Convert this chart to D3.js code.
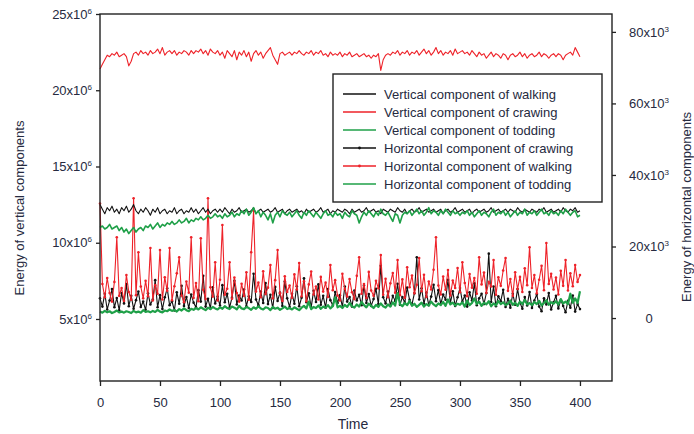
<!DOCTYPE html>
<html>
<head>
<meta charset="utf-8">
<script src="https://cdn.jsdelivr.net/npm/d3@7"></script>
<style>
  body { margin: 0; background: #fff; }
  text { font-family: "Liberation Sans", Arial, sans-serif; fill: #262a40; }
</style>
</head>
<body>
<div id="chart"></div>
<script>
// time samples every 2 units, 0..400
const timeStep = 2;

// vertical components, x10^6
const vertWalking = [
  12.5,12.2,11.9,12.3,12.1,12.4,12.0,12.2,11.9,12.3,
  12.1,12.4,12.0,12.2,12.5,12.1,11.9,12.2,12.0,12.3,
  12.1,11.8,12.2,12.0,12.3,11.9,12.1,12.2,11.9,12.1,
  12.0,12.3,11.9,12.1,12.2,11.9,12.1,12.0,12.3,12.0,
  12.2,11.9,12.1,12.3,12.0,12.2,11.9,12.1,12.2,12.0,
  12.2,12.0,12.3,12.1,11.9,12.2,12.0,12.1,12.3,12.0,
  12.1,12.2,12.0,12.1,12.3,11.9,12.1,12.2,12.0,12.1,
  12.2,12.0,12.1,12.3,12.0,12.1,12.2,11.9,12.1,12.2,
  12.0,12.1,12.2,12.0,12.1,11.9,12.2,12.0,12.1,12.2,
  12.0,12.1,12.3,12.0,12.1,12.2,11.9,12.1,12.0,12.2,
  12.1,12.0,12.2,12.1,11.9,12.2,12.0,12.1,12.2,12.0,
  12.1,12.3,12.0,12.1,12.2,12.0,12.1,11.9,12.2,12.1,
  12.0,12.2,12.1,12.0,12.3,12.1,12.0,12.2,11.9,12.1,
  12.2,12.0,12.1,12.3,12.0,12.1,12.2,12.0,12.1,12.2,
  12.0,12.1,12.2,11.9,12.1,12.2,12.0,12.1,12.3,12.0,
  12.1,12.2,12.0,12.1,12.2,11.9,12.1,12.2,12.0,12.1,
  12.2,12.0,12.1,12.3,12.0,12.1,12.2,12.0,12.1,12.2,
  12.0,12.2,12.1,12.0,12.3,12.1,12.0,12.2,12.1,12.0,
  12.2,12.1,12.0,12.2,12.1,12.3,12.0,12.1,12.2,12.0,
  12.1,12.2,12.0,12.3,12.1,12.0,12.2,12.1,12.3,12.0,
  12.1
];
const vertCrawing = [
  21.4,21.7,22.0,22.3,22.2,22.4,22.3,22.5,22.2,22.3,
  22.4,22.2,21.6,21.9,22.4,22.5,22.3,22.6,22.4,22.5,
  22.3,22.6,22.4,22.5,22.7,22.4,22.8,22.3,22.5,22.6,
  22.4,22.6,22.3,22.5,22.4,22.6,22.5,22.3,22.6,22.4,
  22.6,22.5,22.7,22.4,22.6,22.3,22.7,22.5,22.4,22.6,
  22.3,22.5,22.1,22.6,22.4,22.2,22.6,22.0,22.5,22.3,
  22.6,22.2,22.5,21.9,22.4,22.6,22.3,22.5,22.1,22.4,
  22.6,22.8,22.3,22.0,21.7,22.4,22.5,22.3,22.4,22.5,
  22.3,22.5,22.4,22.6,22.4,22.3,22.5,22.4,22.6,22.3,
  22.5,22.4,22.6,22.3,22.4,22.2,22.5,22.3,22.4,22.3,
  22.5,22.2,22.4,22.3,22.5,22.2,22.3,22.4,22.2,22.3,
  22.4,22.2,22.3,22.1,22.3,22.2,22.4,21.3,22.0,22.3,
  22.4,22.3,22.5,22.4,22.6,22.3,22.5,22.4,22.6,22.3,
  22.5,22.4,22.6,22.3,22.5,22.7,22.4,22.6,22.3,22.5,
  22.8,22.4,22.6,22.3,22.5,22.4,22.6,22.3,22.7,22.4,
  22.5,22.6,22.4,22.5,22.3,22.6,22.4,22.2,22.5,22.3,
  22.4,22.1,22.3,22.5,22.2,22.4,22.3,22.1,22.4,22.3,
  22.0,22.3,22.4,22.2,22.3,22.5,22.2,22.4,22.1,22.3,
  22.4,22.2,22.3,22.5,22.2,22.4,22.3,22.1,22.3,22.4,
  22.2,22.4,22.3,22.0,22.3,22.4,22.5,22.3,22.8,22.5,
  22.2
];
const vertTodding = [
  11.0,11.1,10.9,11.0,11.2,10.9,11.0,11.1,10.8,11.0,
  10.7,10.9,10.6,10.8,11.0,10.7,10.9,11.0,10.8,11.1,
  11.0,11.2,10.9,11.1,11.3,11.0,11.2,11.1,11.3,11.2,
  11.4,11.2,11.3,11.5,11.3,11.4,11.6,11.3,11.5,11.4,
  11.6,11.5,11.7,11.5,11.6,11.8,11.6,11.7,11.9,11.7,
  11.8,11.6,11.9,11.7,11.8,12.0,11.7,11.9,11.8,12.1,
  11.9,12.2,11.8,12.0,12.3,11.9,12.1,11.7,12.0,11.8,
  11.5,11.9,11.3,11.8,12.0,11.7,12.1,11.9,11.8,12.0,
  11.7,11.9,12.1,11.8,11.6,12.0,11.8,12.1,11.9,11.7,
  12.0,11.8,11.6,11.9,12.1,11.8,11.9,11.7,12.0,11.8,
  11.9,11.6,12.0,11.8,11.7,12.1,11.9,11.8,11.3,11.7,
  12.0,11.8,12.1,11.9,11.7,12.0,11.8,12.2,11.9,11.8,
  12.0,11.7,11.4,11.9,11.8,11.3,11.8,12.0,11.9,12.1,
  11.8,12.0,12.2,11.9,12.1,11.8,12.0,12.3,11.9,12.1,
  12.0,11.8,12.1,11.9,12.2,12.0,11.8,12.1,11.9,12.0,
  11.8,12.0,11.9,12.1,11.8,12.0,11.7,11.9,12.1,11.8,
  12.0,11.9,11.7,12.0,12.2,11.8,12.0,11.9,12.1,11.8,
  12.0,11.7,11.9,12.1,11.8,12.0,11.9,12.2,11.8,12.0,
  11.9,12.1,11.8,12.0,12.2,11.9,12.0,11.8,12.1,11.9,
  12.0,11.8,12.1,11.9,12.2,12.0,11.8,12.0,12.1,11.7,
  11.8
];

// horizontal components, x10^3
const horizCrawing = [
  5.5,3.2,6.8,2.4,4.9,8.1,3.0,5.6,2.2,7.0,
  4.1,9.5,3.3,6.2,2.6,5.0,7.4,3.1,4.6,2.3,
  6.9,3.8,5.2,10.6,3.0,6.4,2.5,5.8,8.3,3.6,
  4.7,2.1,7.2,4.0,9.0,3.4,5.9,2.8,6.6,4.3,
  3.0,7.8,4.6,11.8,3.2,5.4,2.7,8.6,4.1,6.0,
  3.5,9.2,4.4,6.8,2.9,5.7,10.4,3.8,6.3,4.9,
  8.0,3.3,6.1,4.5,12.4,5.2,3.6,7.4,4.2,9.8,
  3.9,6.5,2.8,8.7,4.8,7.1,3.4,10.2,5.5,3.1,
  6.8,4.0,8.9,3.3,5.7,11.1,4.4,6.9,3.0,7.6,
  4.5,9.4,3.7,6.2,2.9,8.1,5.0,3.5,7.3,4.2,
  6.4,3.1,8.8,4.6,5.9,3.2,7.7,4.9,6.5,3.6,
  9.1,4.2,6.7,3.4,5.3,8.2,3.9,14.6,5.8,4.1,
  7.4,3.5,6.2,4.8,9.6,3.7,5.9,4.3,8.5,5.1,
  3.8,6.9,17.0,5.2,8.3,4.0,7.1,3.6,6.0,9.3,
  4.7,7.8,3.9,6.6,5.1,10.7,4.2,7.5,3.4,5.8,
  8.4,4.6,6.3,3.2,7.2,4.9,9.7,3.6,5.5,6.8,
  3.9,7.0,18.0,4.5,8.8,3.3,6.1,4.7,7.9,3.1,
  5.4,2.9,6.8,3.7,8.1,4.3,2.6,5.9,3.5,7.3,
  2.8,4.9,6.6,3.2,1.9,5.5,3.8,7.0,2.4,4.4,
  6.2,2.7,5.0,3.4,1.6,4.8,2.9,6.3,1.8,3.9,
  2.5
];
const horizWalking = [
  32.0,9.5,5.8,11.2,7.0,4.6,10.1,22.6,6.2,8.4,
  4.8,12.0,7.3,5.1,33.5,6.4,18.4,8.8,5.5,10.4,
  6.1,19.6,4.9,9.2,6.8,19.0,5.2,11.4,7.6,19.6,
  5.0,8.9,12.5,17.0,6.3,4.4,10.2,7.1,22.6,5.6,
  9.8,4.7,22.3,7.9,5.3,33.5,8.6,6.0,15.6,4.9,
  10.7,26.0,6.5,8.2,15.6,5.4,11.3,7.0,4.6,9.6,
  6.2,12.8,5.1,18.4,30.0,7.4,9.9,5.8,13.1,6.7,
  8.5,14.8,5.5,10.6,19.0,6.9,4.8,11.7,7.3,9.1,
  5.7,12.2,8.0,15.4,6.1,10.3,4.7,9.4,13.0,6.6,
  8.8,5.2,11.5,7.4,9.9,5.9,14.8,7.8,10.6,6.3,
  4.9,12.4,8.1,6.0,10.9,7.2,5.3,11.8,17.0,6.8,
  9.5,5.6,12.9,7.7,6.2,10.4,8.3,17.6,6.5,11.0,
  5.8,9.7,12.6,7.1,16.2,6.4,10.8,5.7,14.2,8.6,
  11.9,6.9,9.3,16.8,7.5,12.1,5.9,10.2,8.0,13.5,
  22.6,9.1,6.6,11.6,7.9,13.4,6.3,10.5,8.4,14.0,
  7.2,15.6,9.8,6.1,12.3,8.5,11.2,6.8,17.0,9.4,
  12.7,7.0,10.1,8.8,16.2,6.5,11.4,9.0,13.3,16.8,
  7.6,10.9,6.2,12.8,8.1,11.5,7.3,13.9,9.2,19.8,
  8.4,12.0,6.9,10.7,14.6,7.8,21.0,9.5,12.4,8.0,
  11.3,6.6,13.2,9.0,16.2,7.7,12.5,8.9,14.8,10.1,
  12.0
];
const horizTodding = [
  1.8,1.5,2.0,1.6,1.9,1.4,1.7,2.1,1.6,1.8,
  1.5,1.9,1.7,1.4,2.0,1.6,1.8,1.5,2.2,1.7,
  1.9,1.6,2.0,1.7,2.3,1.8,1.6,2.1,1.9,2.4,
  2.0,2.3,1.8,2.5,2.1,2.7,2.2,1.9,2.6,2.3,
  2.8,2.4,3.0,2.6,2.2,2.9,2.5,3.1,2.7,2.4,
  3.0,2.6,3.3,2.8,2.5,3.2,2.9,2.4,3.4,2.7,
  2.5,3.1,2.8,2.3,3.0,2.6,3.3,2.7,2.4,3.0,
  2.8,2.2,3.1,2.6,2.9,2.3,2.7,3.2,2.5,2.8,
  2.4,3.0,2.6,2.2,2.9,3.4,2.7,4.6,2.5,3.1,
  2.8,3.5,2.6,3.2,2.9,3.6,2.7,3.3,5.8,3.0,
  3.4,2.8,3.7,3.1,4.2,3.3,2.9,3.8,3.2,4.5,
  3.6,3.0,4.0,3.4,2.8,3.7,3.1,4.1,3.3,2.9,
  3.8,3.2,4.4,3.5,7.0,3.9,3.3,4.2,3.6,4.8,
  3.4,4.0,3.1,3.7,4.3,3.2,3.9,3.5,4.6,3.8,
  3.3,4.1,3.6,4.5,3.4,5.2,3.8,4.3,3.5,4.0,
  3.7,4.4,3.2,4.9,3.6,4.2,5.5,3.9,4.6,3.4,
  4.3,3.8,4.7,3.3,4.1,3.5,4.8,3.9,4.4,3.6,
  4.0,4.9,3.7,4.3,3.4,4.6,3.9,5.1,3.8,4.2,
  3.6,4.5,3.9,4.8,3.5,4.2,5.0,3.7,4.4,4.0,
  4.7,3.8,5.3,4.1,4.6,3.9,6.8,4.3,5.5,4.2,
  7.5
];

const xTicks = [0, 50, 100, 150, 200, 250, 300, 350, 400];
const leftTicks = [5, 10, 15, 20, 25];
const rightTicks = [0, 20, 40, 60, 80];

const legendLabels = [
  'Vertical component of walking',
  'Vertical component of crawing',
  'Vertical component of todding',
  'Horizontal component of crawing',
  'Horizontal component of walking',
  'Horizontal component of todding'
];

const RED = '#ee2229', GREEN = '#1fa048', BLACK = '#111';

const width = 694, height = 434;
const plot = {left: 100, right: 612, top: 14, bottom: 381};

const svg = d3.select('#chart').append('svg')
  .attr('width', width)
  .attr('height', height);

const x = d3.scaleLinear().domain([0, 426.7]).range([plot.left, plot.right]);
const yL = d3.scaleLinear().domain([0.934, 25]).range([plot.bottom, plot.top]);
const yR = d3.scaleLinear().domain([-17.6, 85.0]).range([plot.bottom, plot.top]);

// axes
const supLabel = (sel, exp) => {
  sel.selectAll('.tick text').each(function(d) {
    const t = d3.select(this).text('');
    if (d === 0) { t.text('0'); return; }
    t.append('tspan').text(d + 'x10');
    t.append('tspan').attr('dy', -5).attr('font-size', 8).text(exp);
  });
};

const gx = svg.append('g')
  .attr('transform', `translate(0,${plot.bottom})`)
  .call(d3.axisBottom(x).tickValues(xTicks).tickSize(5).tickSizeOuter(0));
gx.selectAll('text').attr('dy', '1.35em');

const gl = svg.append('g')
  .attr('transform', `translate(${plot.left},0)`)
  .call(d3.axisLeft(yL).tickValues(leftTicks).tickSize(4).tickSizeOuter(0))
  .call(supLabel, '6');
gl.selectAll('.tick text').attr('x', -8);

const gr = svg.append('g')
  .attr('transform', `translate(${plot.right},0)`)
  .call(d3.axisRight(yR).tickValues(rightTicks).tickSize(4).tickSizeOuter(0))
  .call(supLabel, '3');
gr.selectAll('.tick text').attr('x', 37).attr('text-anchor', 'middle');

svg.selectAll('.domain').remove();
svg.selectAll('.tick line').attr('stroke', '#222').attr('stroke-width', 1.3);
svg.selectAll('.tick text')
  .style('font-family', '"Liberation Sans", Arial, sans-serif')
  .attr('font-size', 13)
  .attr('fill', '#262a40');

// series
const line = (scale) => d3.line()
  .x((d, i) => x(i * timeStep))
  .y(d => scale(d));

const series = [
  {data: vertCrawing, scale: yL, color: RED, w: 1.1},
  {data: horizCrawing, scale: yR, color: BLACK, w: 1.1, dots: true},
  {data: horizWalking, scale: yR, color: RED, w: 1.1, dots: true},
  {data: horizTodding, scale: yR, color: GREEN, w: 2.2},
  {data: vertWalking, scale: yL, color: BLACK, w: 1.1},
  {data: vertTodding, scale: yL, color: GREEN, w: 1.6}
];

const chart = svg.append('g');
series.forEach(s => {
  chart.append('path')
    .datum(s.data)
    .attr('fill', 'none')
    .attr('stroke', s.color)
    .attr('stroke-width', s.w)
    .attr('stroke-linejoin', 'round')
    .attr('d', line(s.scale));
  if (s.dots) {
    chart.append('g').selectAll('circle')
      .data(s.data)
      .join('circle')
      .attr('cx', (d, i) => x(i * timeStep))
      .attr('cy', d => s.scale(d))
      .attr('r', 1.3)
      .attr('fill', s.color);
  }
});

// frame
svg.append('rect')
  .attr('x', plot.left).attr('y', plot.top)
  .attr('width', plot.right - plot.left)
  .attr('height', plot.bottom - plot.top)
  .attr('fill', 'none')
  .attr('stroke', '#222')
  .attr('stroke-width', 1.4);

// legend
const legendColors = [BLACK, RED, GREEN, BLACK, RED, GREEN];
const legendDots = [false, false, false, true, true, false];
const lg = svg.append('g').attr('transform', 'translate(333,74)');
lg.append('rect')
  .attr('width', 269).attr('height', 128)
  .attr('fill', '#fff')
  .attr('stroke', '#222')
  .attr('stroke-width', 1.4);
legendLabels.forEach((lab, i) => {
  const yy = 20 + i * 18;
  lg.append('line')
    .attr('x1', 10).attr('x2', 43)
    .attr('y1', yy).attr('y2', yy)
    .attr('stroke', legendColors[i])
    .attr('stroke-width', 1.6);
  if (legendDots[i]) {
    lg.append('circle').attr('cx', 26.5).attr('cy', yy).attr('r', 1.4).attr('fill', legendColors[i]);
  }
  lg.append('text')
    .attr('x', 51).attr('y', yy + 4.5)
    .attr('font-size', 13)
    .text(lab);
});

// axis titles
svg.append('text')
  .attr('x', 353).attr('y', 429)
  .attr('text-anchor', 'middle')
  .attr('font-size', 14)
  .text('Time');

svg.append('text')
  .attr('transform', 'translate(24,208) rotate(-90)')
  .attr('text-anchor', 'middle')
  .attr('font-size', 13)
  .text('Energy of vertical components');

svg.append('text')
  .attr('transform', 'translate(691,207) rotate(-90)')
  .attr('text-anchor', 'middle')
  .attr('font-size', 13)
  .text('Energy of horizontal components');
</script>
</body>
</html>
